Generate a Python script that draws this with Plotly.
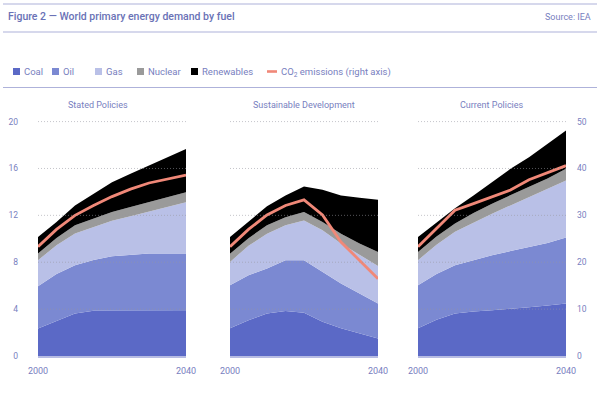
import plotly.graph_objects as go

years = [2000, 2005, 2010, 2015, 2020, 2025, 2030, 2035, 2040]
panel_titles = ["Stated Policies", "Sustainable Development", "Current Policies"]
fuel_names = ["Coal", "Oil", "Gas", "Nuclear", "Renewables"]

# Stated Policies (left axis, primary energy)
sp_coal = [2.35, 3.00, 3.63, 3.86, 3.85, 3.85, 3.85, 3.85, 3.85]
sp_oil = [3.61, 4.00, 4.11, 4.34, 4.66, 4.80, 4.89, 4.90, 4.89]
sp_gas = [2.21, 2.45, 2.71, 2.80, 3.02, 3.28, 3.59, 3.98, 4.38]
sp_nuc = [0.57, 0.62, 0.70, 0.72, 0.75, 0.78, 0.80, 0.83, 0.86]
sp_ren = [1.41, 1.36, 1.70, 2.13, 2.55, 2.85, 3.12, 3.44, 3.69]
sp_co2 = [23.3, 27.0, 30.0, 32.1, 34.0, 35.6, 36.9, 37.8, 38.6]

# Sustainable Development
sd_coal = [2.36, 3.06, 3.63, 3.83, 3.69, 2.92, 2.36, 1.93, 1.50]
sd_oil = [3.68, 3.84, 3.83, 4.34, 4.48, 4.26, 3.82, 3.40, 2.98]
sd_gas = [1.99, 2.50, 2.98, 2.98, 3.40, 3.54, 3.41, 3.27, 3.20]
sd_nuc = [0.70, 0.65, 0.72, 0.68, 0.71, 0.71, 0.85, 0.99, 1.20]
sd_ren = [1.42, 1.38, 1.61, 1.87, 2.19, 2.75, 3.26, 3.91, 4.45]
sd_co2 = [23.3, 27.0, 30.1, 32.1, 33.3, 30.1, 24.3, 20.4, 16.5]

# Current Policies
cp_coal = [2.36, 3.10, 3.63, 3.80, 3.90, 4.00, 4.15, 4.30, 4.48]
cp_oil = [3.68, 3.90, 4.11, 4.40, 4.70, 4.95, 5.15, 5.35, 5.62]
cp_gas = [2.13, 2.50, 2.86, 3.20, 3.54, 3.90, 4.26, 4.60, 4.88]
cp_nuc = [0.71, 0.70, 0.70, 0.80, 0.86, 0.85, 0.84, 0.90, 0.99]
cp_ren = [1.27, 1.20, 1.30, 1.50, 1.83, 2.27, 2.56, 2.95, 3.26]
cp_co2 = [23.3, 27.2, 31.1, 32.5, 33.9, 35.4, 37.6, 39.1, 40.6]

left_ticks = [0, 4, 8, 12, 16, 20]
right_ticks = [0, 10, 20, 30, 40, 50]
x_ticks = [2000, 2040]

fuel_colors = ["#5b69c6", "#7b89d2", "#b9c0e7", "#9a9a9a", "#000000"]
co2_color = "#f08878"
text_color = "#7880c0"
title_color = "#6a72b6"
rule_color = "#aeb2da"
FONT = "Roboto, Liberation Sans, Arial, sans-serif"

panels = [
    (sp_coal, sp_oil, sp_gas, sp_nuc, sp_ren, sp_co2),
    (sd_coal, sd_oil, sd_gas, sd_nuc, sd_ren, sd_co2),
    (cp_coal, cp_oil, cp_gas, cp_nuc, cp_ren, cp_co2),
]

W, H = 600, 398
x_domains = [(38 / W, 186 / W), (230 / W, 378 / W), (418 / W, 566 / W)]
y_domain = (1 - 356 / H, 1 - 121 / H)

fig = go.Figure()
shapes = []

for i, p in enumerate(panels):
    sfx = "" if i == 0 else str(i + 1)
    xa = "x" + sfx
    ya = "y" + sfx
    for j in range(5):
        fig.add_trace(go.Scatter(
            x=years, y=p[j], xaxis=xa, yaxis=ya, mode="lines",
            stackgroup="s%d" % i, line=dict(width=0, color=fuel_colors[j]),
            fillcolor=fuel_colors[j], name=fuel_names[j], showlegend=False,
            hoverinfo="skip"))
    co2_axis = "y%d" % (i + 4)
    fig.add_trace(go.Scatter(
        x=years, y=p[5], xaxis=xa, yaxis=co2_axis, mode="lines",
        line=dict(width=2.8, color=co2_color), showlegend=False,
        name="CO2 emissions", hoverinfo="skip"))
    # dotted gridlines drawn over the areas, as in the reference
    for t in left_ticks[1:]:
        shapes.append(dict(type="line", xref=xa, yref=ya,
                           x0=years[0], x1=years[-1], y0=t, y1=t, layer="above",
                           line=dict(color="rgba(150,150,160,0.7)", width=0.8, dash="1px,2px")))

layout = dict(
    width=W, height=H, autosize=False,
    margin=dict(l=0, r=0, t=0, b=0),
    paper_bgcolor="white", plot_bgcolor="white",
    font=dict(family=FONT, size=9, color=text_color),
    showlegend=False,
)

for i in range(3):
    sfx = "" if i == 0 else str(i + 1)
    layout["xaxis" + sfx] = dict(
        domain=list(x_domains[i]), range=[2000, 2040], anchor="y" + sfx,
        tickvals=x_ticks, ticktext=[str(v) for v in x_ticks],
        showgrid=False, zeroline=False, showline=True, automargin=False,
        linecolor="#b7bce3", linewidth=1.6, ticks="", layer="above traces",
        ticklabelstandoff=6, tickfont=dict(size=9, color=text_color))
    layout["yaxis" + sfx] = dict(
        domain=list(y_domain), range=[0, 20.05], anchor="x" + sfx,
        tickvals=left_ticks, ticktext=[str(v) for v in left_ticks],
        showticklabels=(i == 0), showgrid=False, automargin=False,
        zeroline=False, ticks="",
        ticklabelstandoff=19, tickfont=dict(size=8.5, color=text_color))
    layout["yaxis%d" % (i + 4)] = dict(
        overlaying="y" + sfx, anchor="x" + sfx, side="right",
        range=[0, 50.125], tickvals=right_ticks, automargin=False,
        ticktext=[str(v) for v in right_ticks],
        showticklabels=(i == 2), showgrid=False, zeroline=False, ticks="",
        ticklabelstandoff=10, tickfont=dict(size=8.5, color=text_color))

fig.update_layout(**layout)

for yy in (4, 32, 87.5):
    shapes.append(dict(type="line", xref="paper", yref="paper",
                       x0=3 / W, x1=597 / W, y0=1 - yy / H, y1=1 - yy / H,
                       line=dict(color=rule_color, width=1.2)))

annotations = [
    dict(text="Figure 2 — World primary energy demand by fuel", x=6 / W, y=1 - 16.5 / H,
         xref="paper", yref="paper", xanchor="left", yanchor="middle", showarrow=False,
         font=dict(family=FONT, size=10.5, weight=500, color=title_color)),
    dict(text="Source: IEA", x=593 / W, y=1 - 16.5 / H,
         xref="paper", yref="paper", xanchor="right", yanchor="middle", showarrow=False,
         font=dict(family=FONT, size=9, color=text_color)),
]

title_x = [98, 304, 492]
for t, xc in zip(panel_titles, title_x):
    annotations.append(dict(text=t, x=xc / W, y=1 - 104.5 / H, xref="paper", yref="paper",
                            xanchor="center", yanchor="middle", showarrow=False,
                            font=dict(family=FONT, size=9, color=text_color)))

# Legend drawn manually
leg_y = 71.5
sq_x = [13, 52, 95, 137, 191]
for name, col, sx in zip(fuel_names, fuel_colors, sq_x):
    shapes.append(dict(type="rect", xref="paper", yref="paper",
                       x0=sx / W, x1=(sx + 7) / W,
                       y0=1 - (leg_y + 3.5) / H, y1=1 - (leg_y - 3.5) / H,
                       line=dict(width=0), fillcolor=col))
    annotations.append(dict(text=name, x=(sx + 9) / W, y=1 - leg_y / H,
                            xref="paper", yref="paper", xanchor="left", yanchor="middle",
                            showarrow=False,
                            font=dict(family=FONT, size=9.5, color=text_color)))
shapes.append(dict(type="line", xref="paper", yref="paper",
                   x0=267 / W, x1=277 / W, y0=1 - leg_y / H, y1=1 - leg_y / H,
                   line=dict(color=co2_color, width=2.6)))
annotations.append(dict(text="CO<sub>2</sub> emissions (right axis)", x=279 / W, y=1 - (leg_y + 0.5) / H,
                        xref="paper", yref="paper", xanchor="left", yanchor="middle",
                        showarrow=False,
                        font=dict(family=FONT, size=9.5, color=text_color)))

fig.update_layout(shapes=shapes, annotations=annotations)
fig.write_html("out.html", config={"displayModeBar": False, "staticPlot": True},
               post_script="document.body.style.margin='0';document.body.style.padding='0';")
